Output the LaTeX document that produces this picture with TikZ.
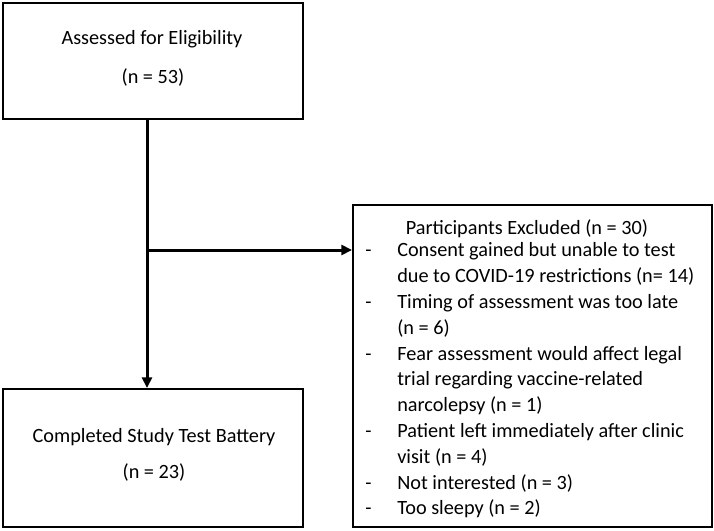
\documentclass[tikz,border=0pt]{standalone}
\usepackage{fontspec}
\setmainfont{Carlito}
\usetikzlibrary{arrows.meta}
\begin{document}
\begin{tikzpicture}[x=0.75pt,y=-0.75pt,
  box/.style={draw=black,line width=1.5pt,inner sep=0pt},
  txt/.style={font=\fontsize{15.2}{19.35}\selectfont,inner sep=0pt,anchor=base},
  conn/.style={draw=black,line width=2.25pt,-{Triangle[length=8pt,width=7.5pt]}}]
\useasboundingbox (0,0) rectangle (714,531);
\node[box,minimum width=225pt,minimum height=87pt] (top) at (153,61) {};
\node[box,minimum width=225pt,minimum height=103.5pt] (bot) at (153,458) {};
\node[box,minimum width=269.25pt,minimum height=241.5pt] (excl) at (532.5,366) {};
\node[txt] (t1) at (152,45) {Assessed for Eligibility};
\node[txt] (t2) at (153,84) {(n = 53)};
\node[txt] (b1) at (154,442) {Completed Study Test Battery};
\node[txt] (b2) at (154,478) {(n = 23)};
\node[txt] (h) at (527,234) {Participants Excluded (n = 30)};
\node[txt,anchor=base west] (list) at (365,257) {%
\begin{tabular}[t]{@{}p{24pt}@{}l@{}}
- & Consent gained but unable to test\\
  & due to COVID-19 restrictions (n= 14)\\
- & Timing of assessment was too late\\
  & (n = 6)\\
- & Fear assessment would affect legal\\
  & trial regarding vaccine-related\\
  & narcolepsy (n = 1)\\
- & Patient left immediately after clinic\\
  & visit (n = 4)\\
- & Not interested (n = 3)\\
- & Too sleepy (n = 2)
\end{tabular}};
\coordinate (j) at (147,250);
\draw[conn] (top.south -| j) -- (bot.north -| j);
\draw[conn] (j) -- (excl.west |- j);
\end{tikzpicture}
\end{document}
